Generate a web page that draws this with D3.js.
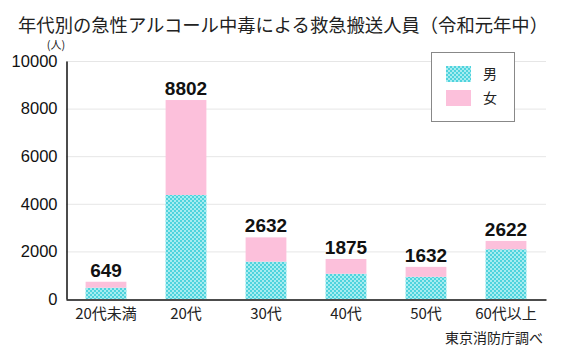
<!DOCTYPE html>
<html><head><meta charset="utf-8">
<script src="https://cdn.jsdelivr.net/npm/d3@7"></script>
<style>
body{margin:0;background:#fff;}
svg{display:block;font-family:"Liberation Sans","Noto Sans CJK JP",sans-serif;}
</style></head>
<body>
<svg id="chart" width="565" height="360"></svg>
<script>
const categories = ["20代未満","20代","30代","40代","50代","60代以上"];
const male = [475, 4370, 1570, 1060, 930, 2090];
const female = [250, 3990, 1020, 620, 420, 350];
const totalLabels = ["649","8802","2632","1875","1632","2622"];
const yTicks = [0,2000,4000,6000,8000,10000];
const seriesNames = ["男","女"];

const svg = d3.select("#chart");
const defs = svg.append("defs");
const pat = defs.append("pattern").attr("id","check").attr("width",4).attr("height",4).attr("patternUnits","userSpaceOnUse");
pat.append("rect").attr("width",4).attr("height",4).attr("fill","#a6ecf0");
pat.append("rect").attr("width",2).attr("height",2).attr("fill","#4fd3dd");
pat.append("rect").attr("x",2).attr("y",2).attr("width",2).attr("height",2).attr("fill","#4fd3dd");
const colors = ["url(#check)","#fcc0db"];

const x = d3.scaleBand().domain(categories).range([66,546]).paddingInner(0.49).paddingOuter(0.245);
const y = d3.scaleLinear().domain([0,10000]).range([299,61]);

// title
svg.append("text").attr("x",18).attr("y",32).attr("font-size",18.5).attr("fill","#222")
  .attr("textLength",530).attr("lengthAdjust","spacingAndGlyphs")
  .style("font-family","'Noto Sans CJK JP',sans-serif")
  .text("年代別の急性アルコール中毒による救急搬送人員（令和元年中）");
svg.append("text").attr("x",56).attr("y",49).attr("font-size",11).attr("text-anchor","middle").attr("fill","#222")
  .style("font-family","'Noto Sans CJK JP',sans-serif").text("(人)");

// grid
svg.append("g").selectAll("line").data(yTicks.filter(d=>d>0)).join("line")
  .attr("x1",66).attr("x2",546).attr("y1",d=>y(d)+0.5).attr("y2",d=>y(d)+0.5)
  .attr("stroke","#e6e6e6").attr("stroke-width",1);

// y axis
const yAxis = d3.axisLeft(y).tickValues(yTicks).tickSize(0).tickPadding(9).tickFormat(d3.format("d"));
const gy = svg.append("g").attr("transform","translate(66.5,0)").call(yAxis);
gy.select(".domain").attr("stroke","#111").attr("stroke-width",1.5);
gy.selectAll("text").attr("font-size",16.5).attr("fill","#111").style("font-family","'Liberation Sans',sans-serif");

// stacked bars
const stackData = categories.map((c,i)=>({cat:c, m:male[i], f:female[i]}));
const stack = d3.stack().keys(["m","f"])(stackData);
svg.append("g").selectAll("g").data(stack).join("g").attr("fill",(d,i)=>colors[i])
  .selectAll("rect").data(d=>d).join("rect")
  .attr("x",d=>x(d.data.cat)).attr("width",x.bandwidth())
  .attr("y",d=>y(d[1])).attr("height",d=>y(d[0])-y(d[1]));

// x axis
const xAxis = d3.axisBottom(x).tickSize(0).tickPadding(9);
const gx = svg.append("g").attr("transform","translate(0,299.5)").call(xAxis);
gx.select(".domain").attr("stroke","#111").attr("stroke-width",1.5);
gx.selectAll("text").attr("font-size",15).attr("fill","#222").style("font-family","'Noto Sans CJK JP',sans-serif");

// total labels
svg.append("g").selectAll("text").data(stackData).join("text")
  .attr("x",d=>x(d.cat)+x.bandwidth()/2).attr("y",d=>y(d.m+d.f)-5)
  .attr("text-anchor","middle").attr("font-size",19).attr("font-weight","bold").attr("fill","#111")
  .text((d,i)=>totalLabels[i]);

// legend
const lg = svg.append("g");
lg.append("rect").attr("x",431.5).attr("y",52.5).attr("width",83).attr("height",69).attr("fill","#fff").attr("stroke","#888").attr("stroke-width",1);
seriesNames.forEach((n,i)=>{
  lg.append("rect").attr("x",446).attr("y",66+i*24).attr("width",25).attr("height",16).attr("fill",colors[i]);
  lg.append("text").attr("x",483).attr("y",79+i*24).attr("font-size",14).attr("fill","#222")
    .style("font-family","'Noto Sans CJK JP',sans-serif").text(n);
});

// source
svg.append("text").attr("x",543).attr("y",343).attr("text-anchor","end").attr("font-size",14).attr("fill","#222")
  .style("font-family","'Noto Sans CJK JP',sans-serif").text("東京消防庁調べ");
</script>
</body></html>
